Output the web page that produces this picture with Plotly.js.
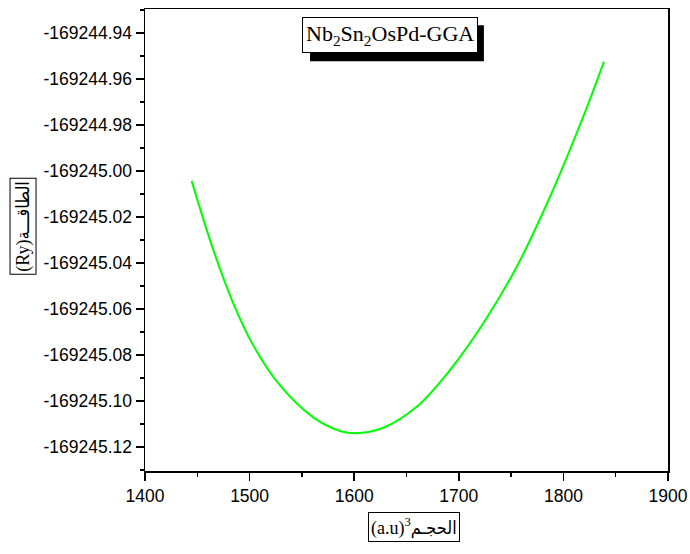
<!DOCTYPE html>
<html>
<head>
<meta charset="utf-8">
<script src="https://cdn.plot.ly/plotly-3.0.1.min.js"></script>
<style>html,body{margin:0;padding:0;background:#fff;}#chart{width:690px;height:554px;}</style>
</head>
<body>
<div id="chart"></div>
<script>
// Volume (a.u)^3
const volume = [1444.6, 1465.3, 1484.4, 1503.5, 1529.1, 1560.9, 1586.4, 1601.0, 1627.8, 1659.7, 1691.6, 1723.4, 1755.4, 1787.2, 1819.0, 1838.8];
// Energy (Ry)
const energy = [-169245.0043, -169245.0343, -169245.0575, -169245.0758, -169245.0932, -169245.1071, -169245.1130, -169245.1140, -169245.1116, -169245.1025, -169245.0865, -169245.0662, -169245.0416, -169245.0112, -169244.9764, -169244.9525];

const xTickVals = [1400, 1500, 1600, 1700, 1800, 1900];
const yTickVals = [-169244.94, -169244.96, -169244.98, -169245.00, -169245.02, -169245.04, -169245.06, -169245.08, -169245.10, -169245.12];
const yTickText = ["-169244.94", "-169244.96", "-169244.98", "-169245.00", "-169245.02", "-169245.04", "-169245.06", "-169245.08", "-169245.10", "-169245.12"];

const chartTitle = "Nb<sub>2</sub>Sn<sub>2</sub>OsPd-GGA";
const xTitle = "(a.u)<sup>3</sup>الحجـم";
const yTitle = "(Ry)الطاقـــة";

const serif = "'Liberation Serif', 'Times New Roman', 'DejaVu Sans Condensed', 'DejaVu Sans', serif";
const sans = "'Liberation Sans', Arial, sans-serif";

const trace = {
  x: volume, y: energy, type: 'scatter', mode: 'lines',
  line: {color: '#00ff00', width: 2, shape: 'spline', smoothing: 1},
  hoverinfo: 'skip'
};

const axisCommon = {
  showline: true, mirror: true, linecolor: '#000', linewidth: 1.5,
  ticks: 'outside', ticklen: 8, tickwidth: 1.5, tickcolor: '#000',
  showgrid: false, zeroline: false,
  tickfont: {family: sans, size: 17.5, color: '#000'}
};

const layout = {
  width: 690, height: 554,
  margin: {l: 145, r: 22, t: 9, b: 83},
  paper_bgcolor: '#fff', plot_bgcolor: '#fff',
  showlegend: false,
  xaxis: Object.assign({}, axisCommon, {
    range: [1400, 1900], tickmode: 'array', tickvals: xTickVals,
    minor: {dtick: 50, tick0: 1400, ticks: 'outside', ticklen: 4, tickwidth: 1.5, tickcolor: '#000', showgrid: false}
  }),
  yaxis: Object.assign({}, axisCommon, {
    range: [-169245.1304, -169244.9296], tickmode: 'array', tickvals: yTickVals, ticktext: yTickText,
    ticklabelstandoff: 0,
    minor: {dtick: 0.01, tick0: -169245.0, ticks: 'outside', ticklen: 4, tickwidth: 1.5, tickcolor: '#000', showgrid: false}
  }),
  shapes: [
    {type: 'rect', xref: 'paper', yref: 'paper', x0: 0.3155, x1: 0.648, y0: 0.887, y1: 0.965,
     fillcolor: '#000', line: {width: 0}, layer: 'above'}
  ],
  annotations: [
    {text: chartTitle, xref: 'paper', yref: 'paper', x: 0.4685, y: 0.9437, xanchor: 'center', yanchor: 'middle',
     showarrow: false, font: {family: serif, size: 22, color: '#000'}, bgcolor: '#fff', bordercolor: '#000',
     borderwidth: 1, borderpad: 3},
    {text: xTitle, xref: 'paper', yref: 'paper', x: 0.514, y: -0.121, xanchor: 'center', yanchor: 'middle',
     showarrow: false, font: {family: serif, size: 18, color: '#000'}, bgcolor: '#fff', bordercolor: '#000',
     borderwidth: 1, borderpad: 2},
    {text: yTitle, xref: 'paper', yref: 'paper', x: -0.233, y: 0.529, xanchor: 'center', yanchor: 'middle',
     textangle: -90, showarrow: false, font: {family: serif, size: 18, color: '#000'}, bgcolor: '#fff', bordercolor: '#000',
     borderwidth: 1, borderpad: 2}
  ]
};

Plotly.newPlot('chart', [trace], layout, {staticPlot: true, displayModeBar: false});
</script>
</body>
</html>
